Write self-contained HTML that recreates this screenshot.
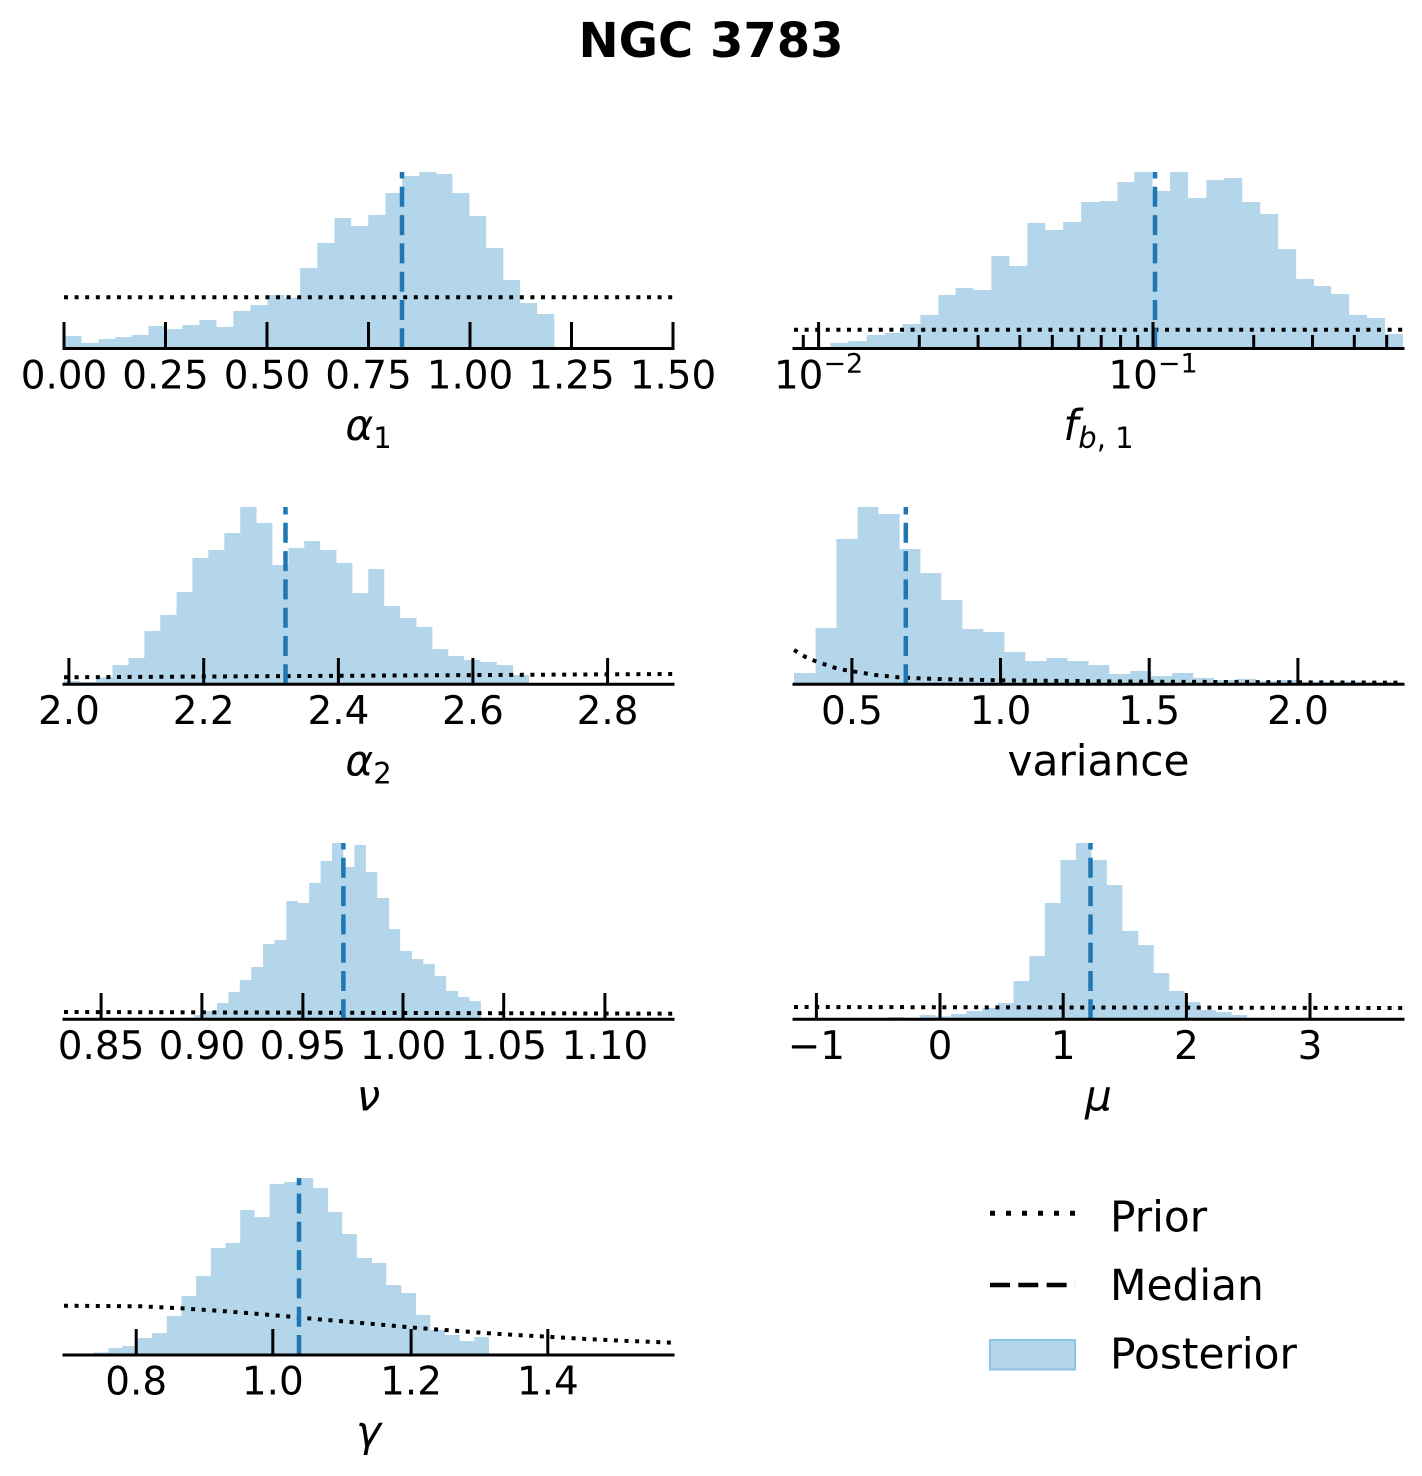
<!DOCTYPE html>
<html>
<head>
<meta charset="utf-8">
<style>
html,body{margin:0;padding:0;background:#fff;}
svg{display:block;}
text{font-family:"DejaVu Sans","Liberation Sans",sans-serif;fill:#000;}
.tk{font-size:38.9px;text-anchor:middle;}
.lb{font-size:42.3px;text-anchor:middle;}
.it{font-style:italic;}
.lg{font-size:42.3px;}
.bar{fill:#b4d6ea;}
.sp{stroke:#000;stroke-width:3;fill:none;}
.tick{stroke:#000;stroke-width:3;}
.med{stroke:#1f77b4;stroke-width:4.5;stroke-dasharray:20 8.3;fill:none;}
.pri{stroke:#000;stroke-width:4;stroke-dasharray:4 6.6;fill:none;}
</style>
</head>
<body>
<svg width="1422" height="1476" viewBox="0 0 1422 1476" xmlns="http://www.w3.org/2000/svg">
<text x="711" y="57" style="font-size:48px;font-weight:bold;text-anchor:middle;">NGC 3783</text>

<!-- ============ Panel 1 : alpha1 ============ -->
<g transform="matrix(0.4079 0 0 0.33333 50.54 160)">
<path class="bar" d="M33,565 V528 H76 V549 H118 V537 H159 V531 H199 V525 H240 V498 H282 V507 H323 V495 H365 V480 H407 V501 H448 V453 H490 V435 H532 V405 H573 V413 H612 V324 H654 V249 H696 V174 H737 V198 H779 V165 H821 V99 H862 V48 H904 V36 H946 V42 H985 V99 H1027 V168 H1068 V264 H1110 V360 H1151 V429 H1193 V462 H1235 V565 Z"/>
</g>
<line class="pri" x1="64" y1="297.3" x2="673" y2="297.3"/>
<line class="med" x1="402" y1="348.3" x2="402" y2="172"/>
<line class="sp" x1="62.5" y1="348.5" x2="674.5" y2="348.5"/>
<g class="tick">
<line x1="64" y1="348" x2="64" y2="322"/><line x1="165.5" y1="348" x2="165.5" y2="322"/><line x1="267" y1="348" x2="267" y2="322"/><line x1="368.5" y1="348" x2="368.5" y2="322"/><line x1="470" y1="348" x2="470" y2="322"/><line x1="571.5" y1="348" x2="571.5" y2="322"/><line x1="673" y1="348" x2="673" y2="322"/>
</g>
<text class="tk" x="64" y="388.3">0.00</text><text class="tk" x="165.5" y="388.3">0.25</text><text class="tk" x="267" y="388.3">0.50</text><text class="tk" x="368.5" y="388.3">0.75</text><text class="tk" x="470" y="388.3">1.00</text><text class="tk" x="571.5" y="388.3">1.25</text><text class="tk" x="673" y="388.3">1.50</text>
<text class="lb" x="368.5" y="440"><tspan class="it">α</tspan><tspan style="font-size:29px" dy="8">1</tspan></text>

<!-- ============ Panel 2 : f_b,1 ============ -->
<g transform="matrix(0.4079 0 0 0.33333 780.54 160)">
<path class="bar" d="M33,565 V561 H77 V565 Z"/>
<path class="bar" d="M122,565 V549 H166 V543 H211 V525 H255 V519 H299 V492 H343 V465 H387 V405 H429 V384 H473 V390 H517 V288 H561 V318 H605 V189 H649 V210 H693 V186 H737 V126 H782 V123 H826 V66 H867 V36 H912 V93 H955 V36 H999 V114 H1044 V60 H1088 V54 H1132 V126 H1176 V162 H1220 V267 H1264 V357 H1308 V378 H1350 V402 H1394 V465 H1438 V474 H1482 V522 H1526 V565 Z"/>
</g>
<line class="pri" x1="794" y1="329.7" x2="1403" y2="329.7"/>
<line class="med" x1="1155" y1="348.3" x2="1155" y2="172"/>
<line class="sp" x1="792.5" y1="348.5" x2="1404.5" y2="348.5"/>
<g class="tick">
<line x1="818.6" y1="348" x2="818.6" y2="322"/><line x1="1153" y1="348" x2="1153" y2="322"/>
<line x1="803.3" y1="348" x2="803.3" y2="335"/>
<line x1="919.3" y1="348" x2="919.3" y2="335"/><line x1="978.1" y1="348" x2="978.1" y2="335"/><line x1="1019.9" y1="348" x2="1019.9" y2="335"/><line x1="1052.3" y1="348" x2="1052.3" y2="335"/><line x1="1078.8" y1="348" x2="1078.8" y2="335"/><line x1="1101.2" y1="348" x2="1101.2" y2="335"/><line x1="1120.6" y1="348" x2="1120.6" y2="335"/><line x1="1137.7" y1="348" x2="1137.7" y2="335"/>
<line x1="1253.7" y1="348" x2="1253.7" y2="335"/><line x1="1312.5" y1="348" x2="1312.5" y2="335"/><line x1="1354.3" y1="348" x2="1354.3" y2="335"/><line x1="1386.7" y1="348" x2="1386.7" y2="335"/>
</g>
<text class="tk" x="818.6" y="388.3">10<tspan style="font-size:27px" dy="-16">−2</tspan></text>
<text class="tk" x="1153" y="388.3">10<tspan style="font-size:27px" dy="-16">−1</tspan></text>
<text class="lb" x="1098.5" y="440"><tspan class="it">f</tspan><tspan style="font-size:29px" dy="8"><tspan class="it">b</tspan>, 1</tspan></text>

<!-- ============ Panel 3 : alpha2 ============ -->
<g transform="matrix(0.4079 0 0 0.33333 50.54 495)">
<path class="bar" d="M33,568 V558 H72 V561 H112 V547 H152 V510 H191 V489 H230 V408 H269 V360 H309 V291 H348 V189 H387 V165 H426 V114 H465 V36 H505 V84 H544 V210 H583 V159 H622 V138 H661 V165 H701 V204 H740 V294 H779 V222 H818 V333 H857 V369 H897 V396 H936 V462 H975 V483 H1014 V495 H1054 V501 H1094 V510 H1134 V540 H1173 V568 Z"/>
</g>
<line class="pri" x1="64" y1="677.3" x2="673" y2="674"/>
<line class="med" x1="285.5" y1="684.3" x2="285.5" y2="507"/>
<line class="sp" x1="62.5" y1="684.3" x2="674.5" y2="684.3"/>
<g class="tick">
<line x1="68.9" y1="684" x2="68.9" y2="658"/><line x1="203.7" y1="684" x2="203.7" y2="658"/><line x1="338.4" y1="684" x2="338.4" y2="658"/><line x1="472.9" y1="684" x2="472.9" y2="658"/><line x1="607.6" y1="684" x2="607.6" y2="658"/>
</g>
<text class="tk" x="68.9" y="724">2.0</text><text class="tk" x="203.7" y="724">2.2</text><text class="tk" x="338.4" y="724">2.4</text><text class="tk" x="472.9" y="724">2.6</text><text class="tk" x="607.6" y="724">2.8</text>
<text class="lb" x="368.5" y="775.5"><tspan class="it">α</tspan><tspan style="font-size:29px" dy="8">2</tspan></text>

<!-- ============ Panel 4 : variance ============ -->
<g transform="matrix(0.4079 0 0 0.33333 780.54 495)">
<path class="bar" d="M33,568 V534 H86 V399 H137 V132 H189 V36 H240 V57 H292 V162 H343 V234 H394 V315 H446 V402 H497 V411 H549 V471 H600 V498 H652 V489 H703 V498 H755 V510 H806 V537 H857 V528 H909 V543 H960 V534 H1012 V549 H1063 V555 H1115 V552 H1166 V558 H1218 V555 H1269 V560 H1320 V560 H1372 V560 H1423 V562 H1475 V562 H1526 V568 Z"/>
</g>
<polyline class="pri" points="794,650 805,656.7 814.2,660.7 824.4,664.3 834.6,667.7 844.8,670 855,671.7 865.2,673.3 875.4,675 885.7,676 897.9,677.3 918.3,678.3 942.8,679.2 1000,680.3 1147.7,681.7 1403,682.7"/>
<line class="med" x1="905.8" y1="684.3" x2="905.8" y2="507"/>
<line class="sp" x1="792.5" y1="684.3" x2="1404.5" y2="684.3"/>
<g class="tick">
<line x1="851.9" y1="684" x2="851.9" y2="658"/><line x1="1000.5" y1="684" x2="1000.5" y2="658"/><line x1="1149.2" y1="684" x2="1149.2" y2="658"/><line x1="1297.9" y1="684" x2="1297.9" y2="658"/>
</g>
<text class="tk" x="851.9" y="724">0.5</text><text class="tk" x="1000.5" y="724">1.0</text><text class="tk" x="1149.2" y="724">1.5</text><text class="tk" x="1297.9" y="724">2.0</text>
<text class="lb" x="1098.5" y="775.5">variance</text>

<!-- ============ Panel 5 : nu ============ -->
<g transform="matrix(0.4079 0 0 0.33333 50.54 830)">
<path class="bar" d="M323,568 V562 H352 V555 H380 V543 H408 V519 H436 V486 H464 V450 H492 V411 H521 V342 H549 V330 H578 V213 H606 V219 H634 V159 H662 V93 H690 V39 H718 V111 H745 V45 H773 V126 H801 V204 H830 V297 H857 V363 H886 V387 H914 V402 H942 V438 H970 V483 H999 V501 H1027 V513 H1055 V568 Z"/>
</g>
<line class="pri" x1="64" y1="1012" x2="673" y2="1013.7"/>
<line class="med" x1="343.4" y1="1019.3" x2="343.4" y2="843"/>
<line class="sp" x1="62.5" y1="1019.3" x2="674.5" y2="1019.3"/>
<g class="tick">
<line x1="101.1" y1="1019" x2="101.1" y2="993"/><line x1="201.9" y1="1019" x2="201.9" y2="993"/><line x1="302.9" y1="1019" x2="302.9" y2="993"/><line x1="403" y1="1019" x2="403" y2="993"/><line x1="503.7" y1="1019" x2="503.7" y2="993"/><line x1="604.9" y1="1019" x2="604.9" y2="993"/>
</g>
<text class="tk" x="101.1" y="1059">0.85</text><text class="tk" x="201.9" y="1059">0.90</text><text class="tk" x="302.9" y="1059">0.95</text><text class="tk" x="403" y="1059">1.00</text><text class="tk" x="503.7" y="1059">1.05</text><text class="tk" x="604.9" y="1059">1.10</text>
<text class="lb it" x="368.5" y="1110.5">ν</text>

<!-- ============ Panel 6 : mu ============ -->
<g transform="matrix(0.4079 0 0 0.33333 780.54 830)">
<path class="bar" d="M265,568 V561 H304 V568 H341 V555 H380 V559 H418 V552 H456 V543 H495 V534 H533 V519 H571 V453 H610 V378 H648 V219 H686 V90 H724 V39 H762 V90 H800 V165 H838 V303 H877 V345 H915 V429 H953 V483 H991 V516 H1029 V540 H1068 V546 H1106 V555 H1144 V568 Z"/>
</g>
<line class="pri" x1="794" y1="1007" x2="1403" y2="1008"/>
<line class="med" x1="1090.5" y1="1019.3" x2="1090.5" y2="843"/>
<line class="sp" x1="792.5" y1="1019.3" x2="1404.5" y2="1019.3"/>
<g class="tick">
<line x1="816.4" y1="1019" x2="816.4" y2="993"/><line x1="940" y1="1019" x2="940" y2="993"/><line x1="1063.2" y1="1019" x2="1063.2" y2="993"/><line x1="1186.4" y1="1019" x2="1186.4" y2="993"/><line x1="1310" y1="1019" x2="1310" y2="993"/>
</g>
<text class="tk" x="816.4" y="1059">−1</text><text class="tk" x="940" y="1059">0</text><text class="tk" x="1063.2" y="1059">1</text><text class="tk" x="1186.4" y="1059">2</text><text class="tk" x="1310" y="1059">3</text>
<text class="lb it" x="1098.5" y="1110.5">μ</text>

<!-- ============ Panel 7 : gamma ============ -->
<g transform="matrix(0.4079 0 0 0.33333 50.54 1165)">
<path class="bar" d="M105,570 V562 H142 V549 H176 V543 H213 V519 H249 V504 H285 V453 H321 V393 H357 V333 H393 V249 H429 V234 H465 V135 H500 V156 H537 V57 H573 V51 H609 V39 H644 V69 H680 V141 H715 V207 H751 V279 H788 V294 H823 V360 H860 V384 H896 V450 H931 V495 H967 V510 H1003 V528 H1039 V516 H1075 V570 Z"/>
</g>
<polyline class="pri" points="64,1305.7 140.3,1306.3 181,1308.3 221.8,1311 262.6,1314.3 295.3,1317 311.6,1318.7 376.9,1324.3 417.7,1328 458.4,1331 499.2,1334 540,1336.3 580.8,1338.7 621.6,1340.7 673,1342.7"/>
<line class="med" x1="299" y1="1355" x2="299" y2="1178"/>
<line class="sp" x1="62.5" y1="1355" x2="674.5" y2="1355"/>
<g class="tick">
<line x1="136.2" y1="1355" x2="136.2" y2="1329"/><line x1="272.8" y1="1355" x2="272.8" y2="1329"/><line x1="411.1" y1="1355" x2="411.1" y2="1329"/><line x1="547.8" y1="1355" x2="547.8" y2="1329"/>
</g>
<text class="tk" x="136.2" y="1394.7">0.8</text><text class="tk" x="272.8" y="1394.7">1.0</text><text class="tk" x="411.1" y="1394.7">1.2</text><text class="tk" x="547.8" y="1394.7">1.4</text>
<text class="lb it" x="368.5" y="1446">γ</text>

<!-- ============ Legend ============ -->
<line x1="990" y1="1213.3" x2="1075" y2="1213.3" style="stroke:#000;stroke-width:5;stroke-dasharray:5 11;"/>
<text class="lg" x="1110" y="1231.7">Prior</text>
<line x1="990" y1="1285" x2="1075" y2="1285" style="stroke:#000;stroke-width:4.5;stroke-dasharray:20 8.3;"/>
<text class="lg" x="1110" y="1300">Median</text>
<rect x="990" y="1340" width="85" height="29.5" style="fill:#b4d6ea;stroke:#8dc3e3;stroke-width:2;"/>
<text class="lg" x="1110" y="1368.5">Posterior</text>
</svg>
</body>
</html>
